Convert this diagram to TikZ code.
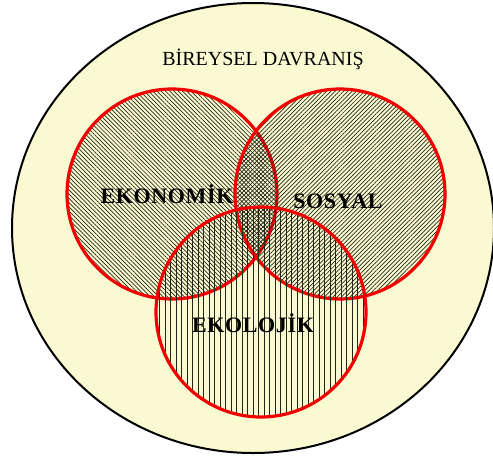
\documentclass[tikz,border=0pt]{standalone}
\usepackage{fontspec}
\setmainfont{Liberation Serif}
\usetikzlibrary{shapes.geometric, patterns.meta}
\definecolor{creamfill}{HTML}{FAFAD2}
\definecolor{vennred}{HTML}{F00000}
\definecolor{hatchgray}{HTML}{262618}

\begin{document}
\begin{tikzpicture}[x=1pt, y=1pt,
		setcircle/.style={circle, draw=vennred, line width=3.2pt, minimum size=210pt,
			inner sep=0pt, pattern color=hatchgray},
		setlabel/.style={anchor=base, text=black,
			font=\fontsize{22}{26}\selectfont\bfseries\addfontfeature{LetterSpace=3}}]
	\useasboundingbox (0,-456) rectangle (493,0);

	% outer set
	\node[ellipse, draw=black, line width=2pt, fill=creamfill, inner sep=0pt,
	minimum width=482pt, minimum height=450pt] (birey) at (253,-228) {};
	\node[anchor=base, font=\fontsize{20}{24}\selectfont] (title) at (263,-65) {BİREYSEL DAVRANIŞ};

	% three sets
	\node[setcircle, pattern={Lines[angle=-45, distance=3pt, line width=0.7pt]}] (ekonomi) at (172,-194) {};
	\node[setcircle, pattern={Lines[angle=45, distance=3pt, line width=0.7pt]}] (sosyal) at (340,-194) {};
	\node[setcircle, pattern={Lines[angle=90, distance=5.5pt, line width=0.8pt]}] (ekoloji) at (261,-312) {};

	% labels
	\node[setlabel] (ekonomilbl) at (167,-203) {EKONOMİK};
	\node[setlabel] (sosyallbl) at (338,-208) {SOSYAL};
	\node[setlabel] (ekolojilbl) at (253,-332) {EKOLOJİK};
\end{tikzpicture}
\end{document}
